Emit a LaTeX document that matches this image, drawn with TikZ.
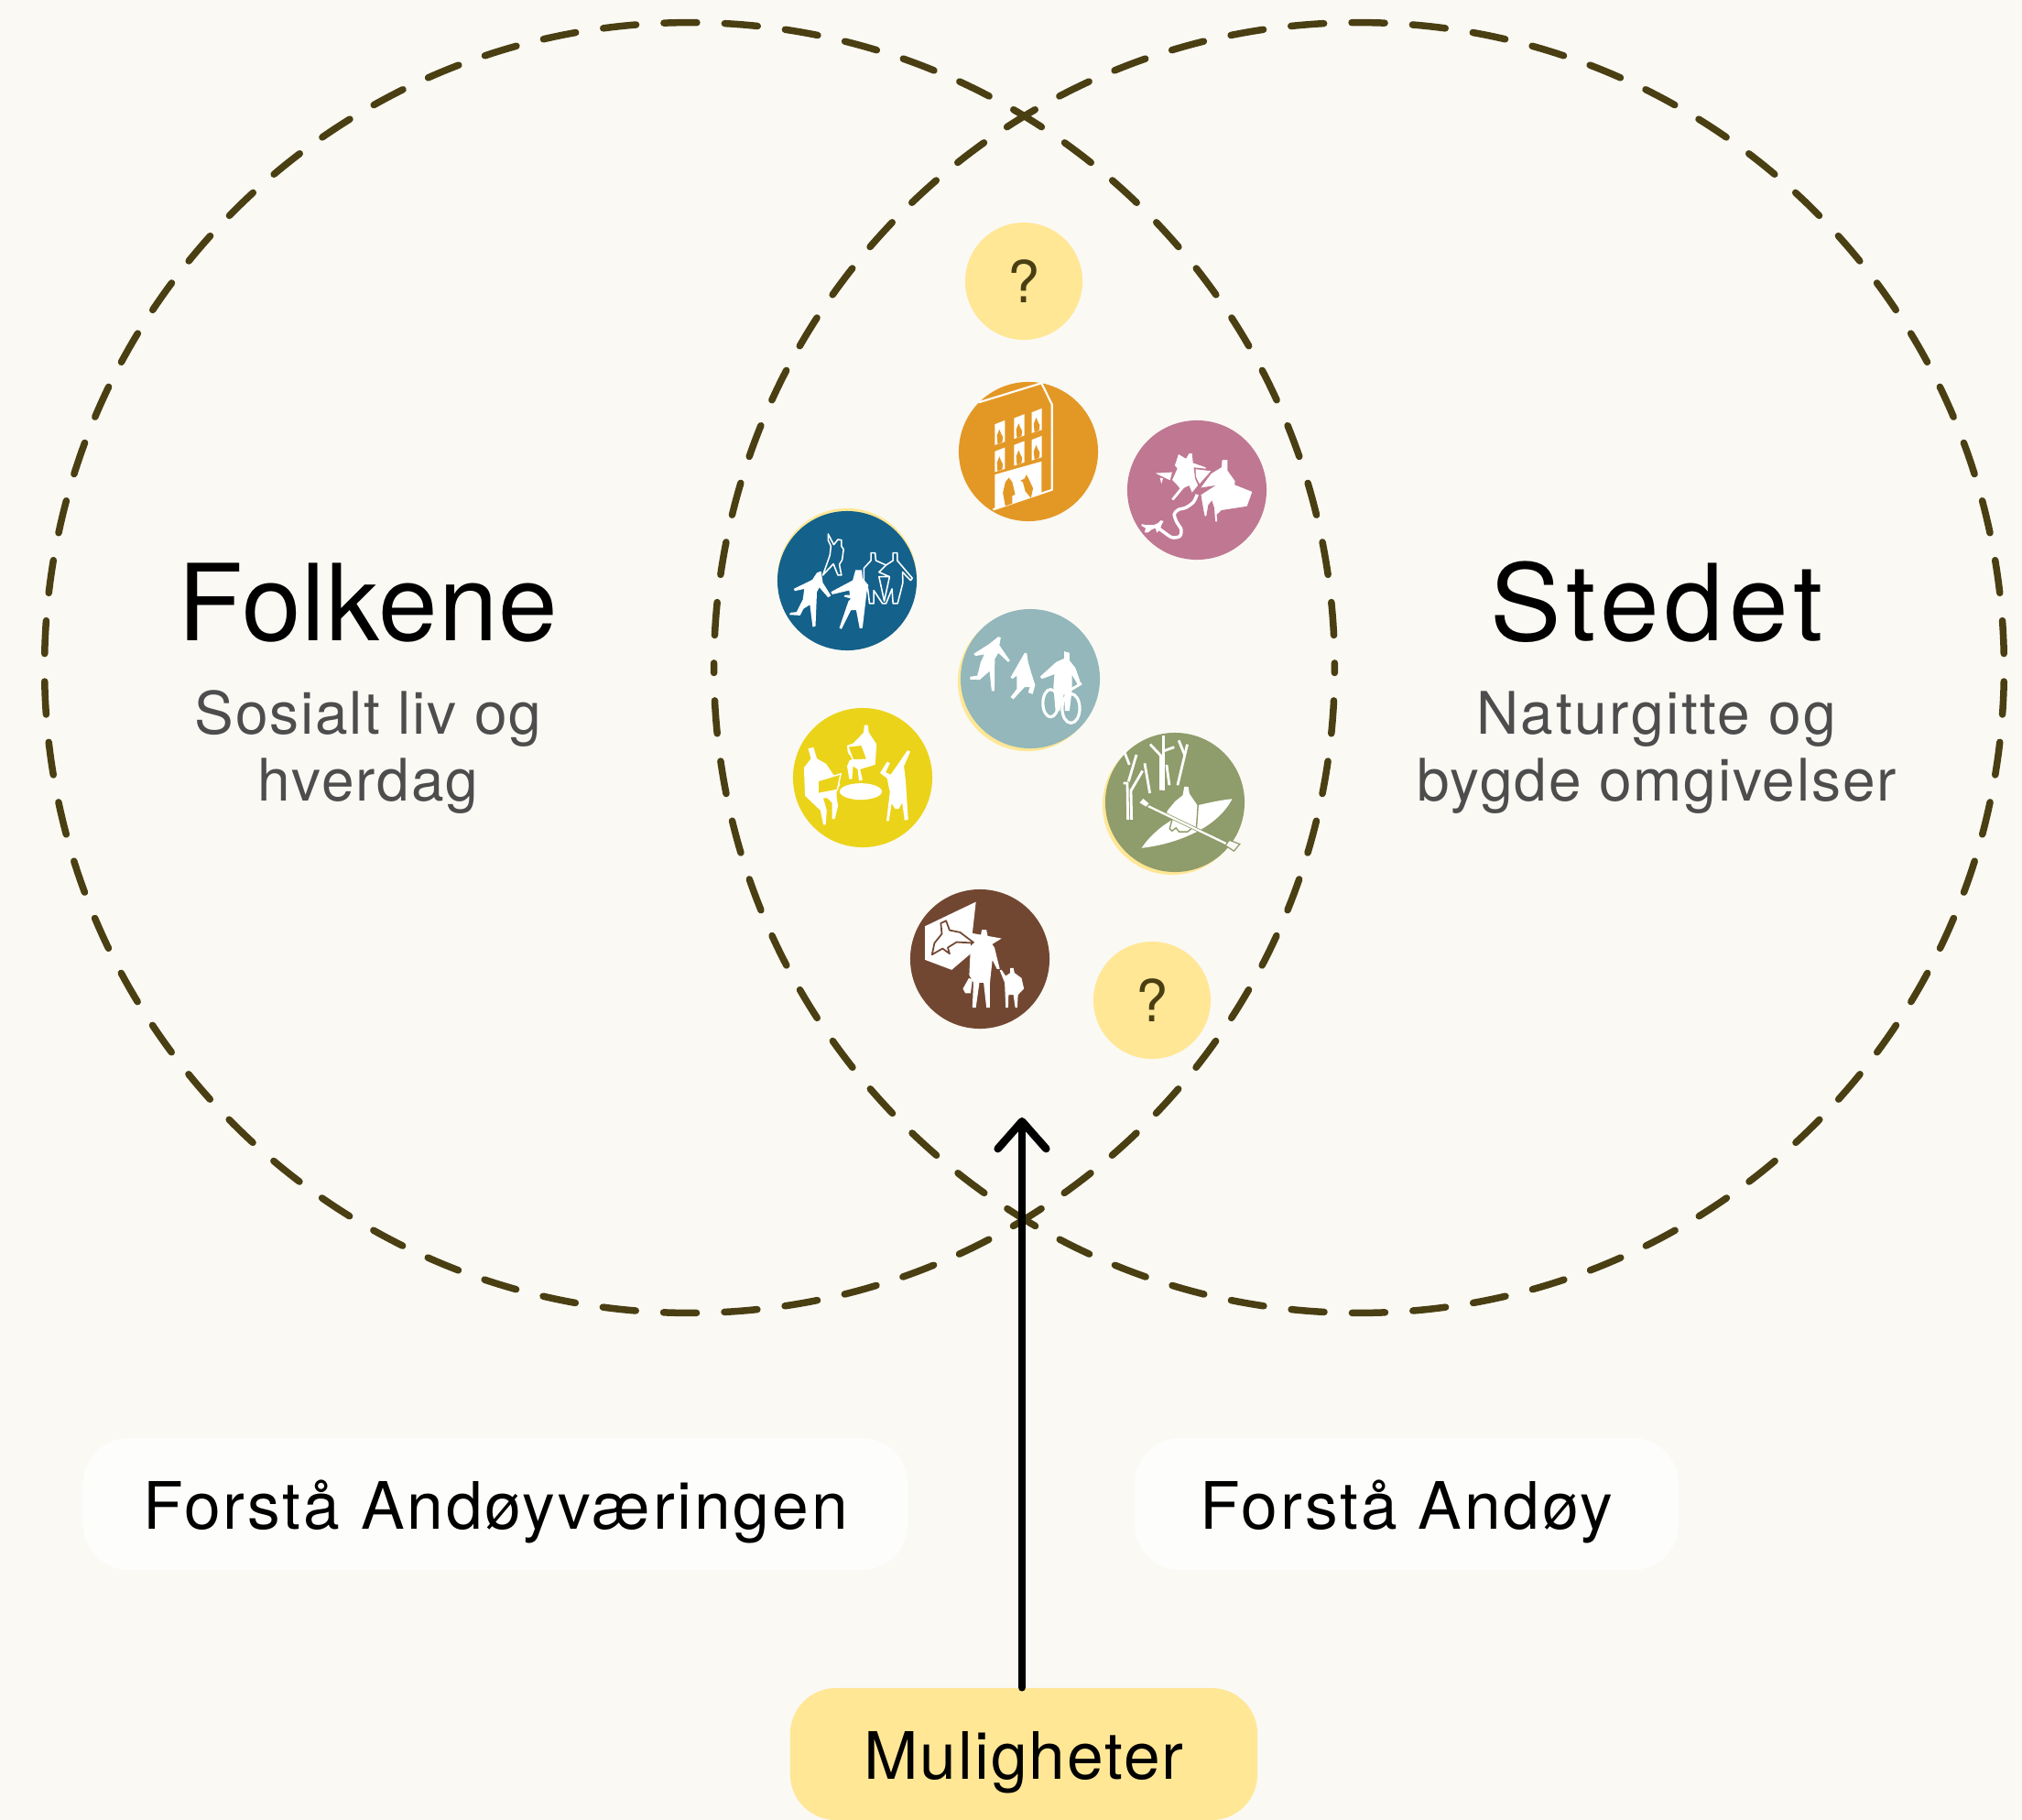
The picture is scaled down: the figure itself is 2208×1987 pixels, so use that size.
\documentclass[tikz,border=0pt]{standalone}
\usepackage{fontspec}
\usepackage{tikz}
\usetikzlibrary{arrows.meta}
\setmainfont{TeX Gyre Heros}
\newfontfamily\titlefont[LetterSpace=1]{TeX Gyre Heros}
\newfontfamily\stedfont[LetterSpace=5.3]{TeX Gyre Heros}
\newfontfamily\spacedfont[LetterSpace=2.8]{TeX Gyre Heros}
\newfontfamily\widefont[LetterSpace=4]{TeX Gyre Heros}
\definecolor{paper}{HTML}{FAF9F4}
\definecolor{ringcol}{HTML}{4A3F12}
\definecolor{softyellow}{HTML}{FFE796}
\definecolor{greytext}{HTML}{4D4D4D}
\definecolor{orangecol}{HTML}{E39826}
\definecolor{pinkcol}{HTML}{BF7792}
\definecolor{bluecol}{HTML}{14618B}
\definecolor{tealcol}{HTML}{93B7BA}
\definecolor{yellowcol}{HTML}{EBD31A}
\definecolor{sagecol}{HTML}{8F9C6B}
\definecolor{browncol}{HTML}{724732}
\tikzset{
    ring/.style={draw=ringcol,circle,minimum size=14.08cm,inner sep=0pt,outer sep=0pt,line width=.075cm,line cap=round,dash pattern=on .36cm off .3041cm,dash phase=.309cm},
    token/.style={circle,minimum size=1.52cm,inner sep=0pt,outer sep=0pt},
    asktoken/.style={circle,fill=softyellow,minimum size=1.28cm,inner sep=0pt,text=ringcol,font=\fontsize{18}{20}\selectfont},
    title/.style={anchor=base,font=\titlefont\fontsize{33}{38}\selectfont},
    subtitle/.style={anchor=base,align=center,text=greytext,font=\spacedfont\fontsize{18.2}{20.5}\selectfont},
    pill/.style={rounded corners=.5cm,inner sep=0pt,minimum height=1.44cm,text height=.55cm,text depth=0pt,font=\widefont\fontsize{20.3}{24}\selectfont},
    figure/.style={fill=white},
    figline/.style={draw=white,line width=.45pt,line join=round},
    treeline/.style={draw=white,line width=.8pt},
    topgrid/.style={shift={(820,380)},x=.003827cm,y=-.003333cm},
    lowgrid/.style={shift={(830,740)},x=.003827cm,y=-.003333cm},
    walkgrid/.style={shift={(1235,465)},x=.003333cm,y=-.003333cm},
    kayakgrid/.style={shift={(1225,800)},x=.003333cm,y=-.003333cm}
}
\begin{document}
\begin{tikzpicture}[x=.01cm,y=-.01cm]
    \useasboundingbox (0,0) rectangle (2208,1987);
    \fill[paper] (0,0) rectangle (2208,1987);

    \node[ring] (folkene) at (753,729) {};
    \node[ring,xscale=-1] (stedet) at (1484,729) {};

    \node[title] (folktitle) at (402,699) {Folkene};
    \node[title] (stedtitle) at (1809,699) {\stedfont Stedet};
    \node[subtitle] (folktext) at (402,874) {Sosialt liv og\\hverdag};
    \node[subtitle] (stedtext) at (1809,874) {{\widefont Naturgitte og}\\bygde omgivelser};

    \node[pill,fill=white,fill opacity=.7,text opacity=1,minimum width=9cm] (forfolk) at (541,1642) {Forstå Andøyværingen};
    \node[pill,fill=white,fill opacity=.7,text opacity=1,minimum width=5.94cm] (forsted) at (1536,1642) {Forstå Andøy};
    \node[pill,fill=softyellow,minimum width=5.1cm] (muligheter) at (1118,1915) {\spacedfont Muligheter};

    \coordinate (arrowtip) at (1116,1220);
    \draw[-{Straight Barb[length=8.5pt,width=15pt,round]},line width=.085cm,line cap=round] (muligheter.north -| arrowtip) -- (arrowtip);

    \node[asktoken] (asktop) at (1118,307) {?};
    \node[asktoken] (asklow) at (1258,1092) {?};

    \fill[softyellow] (925,631) circle (.76cm);
    \fill[softyellow] (1122,744) circle (.76cm);
    \fill[softyellow] (1280,879) circle (.76cm);
    \node[token,fill=orangecol] (house) at (1123,493) {};
    \node[token,fill=pinkcol] (walk) at (1307,535) {};
    \node[token,fill=bluecol] (crowd) at (925,634) {};
    \node[token,fill=tealcol] (move) at (1125,741) {};
    \node[token,fill=yellowcol] (meet) at (942,849) {};
    \node[token,fill=sagecol] (kayak) at (1283,876) {};
    \node[token,fill=browncol] (family) at (1070,1047) {};

    \begin{scope}[topgrid]
        \draw[figline,line width=.6pt] (690,530) -- (858,465) -- (858,185) -- (828,115) -- (650,178);
        \fill[figure] (695,415) -- (828,372) -- (828,478) -- (695,528) -- cycle;
        \fill[orangecol] (735,425) -- (745,440) -- (753,480) -- (745,485) -- (745,510) -- (725,518) -- (718,475) -- (725,440) -- cycle;
        \fill[orangecol] (785,415) -- (792,430) -- (804,460) -- (798,492) -- (782,470) -- (775,440) -- (768,435) -- (780,428) -- cycle;
        \foreach \wx/\wy in {695/237,750/217,800/198,695/326,750/305,800/288} {
            \fill[figure] (\wx,\wy+13) -- (\wx+29,\wy) -- (\wx+29,\wy+70) -- (\wx,\wy+81) -- cycle;
            \fill[orangecol] (\wx+8,\wy+78) -- (\wx+6,\wy+50) -- (\wx+13,\wy+30) -- (\wx+18,\wy+44) -- (\wx+23,\wy+55) -- (\wx+21,\wy+72) -- cycle;
        }

        \fill[figure] (188,737) -- (200,732) -- (205,770) -- (228,812) -- (220,818) -- (195,785) -- (188,800) -- (184,912) -- (176,915) -- (168,842) -- (150,855) -- (140,877) -- (110,875) -- (112,868) -- (130,866) -- (148,825) -- (152,790) -- (125,797) -- (122,790) -- (175,760) -- cycle;
        \fill[figure] (298,728) -- (316,728) -- (318,755) -- (335,778) -- (330,800) -- (318,918) -- (310,920) -- (300,860) -- (285,860) -- (258,922) -- (252,918) -- (278,830) -- (285,822) -- (265,815) -- (268,810) -- (282,810) -- (280,795) -- (232,808) -- (228,800) -- (290,762) -- cycle;
        \draw[figline] (220,610) -- (236,645) -- (248,628) -- (258,630) -- (258,650) -- (264,660) -- (260,695) -- (252,710) -- (258,745) -- (248,745) -- (235,708) -- (205,745) -- (225,680) -- (228,650) -- (220,630) -- cycle;
        \draw[figline] (342,672) -- (354,672) -- (356,697) -- (385,712) -- (405,697) -- (405,672) -- (417,672) -- (417,697) -- (460,755) -- (455,762) -- (432,735) -- (433,770) -- (418,838) -- (405,838) -- (402,790) -- (385,838) -- (375,838) -- (350,795) -- (350,838) -- (338,838) -- (333,790) -- (322,770) -- (322,722) -- (342,697) -- cycle;
        \draw[figline] (385,712) -- (365,735) -- (395,750) -- (365,750) -- (380,830) -- (395,750);

        \fill[figure] (705,947) -- (712,950) -- (708,975) -- (738,1025) -- (733,1030) -- (705,1000) -- (695,1020) -- (694,1125) -- (686,1125) -- (680,1060) -- (665,1075) -- (652,1088) -- (625,1087) -- (625,1078) -- (645,1075) -- (655,1030) -- (665,1005) -- (640,1010) -- (635,1003) -- (680,970) -- cycle;
        \fill[figure] (780,1000) -- (786,1000) -- (790,1030) -- (800,1070) -- (810,1105) -- (803,1135) -- (790,1130) -- (795,1112) -- (780,1112) -- (748,1152) -- (740,1145) -- (758,1118) -- (758,1075) -- (745,1085) -- (740,1080) -- (765,1030) -- cycle;
        \fill[figure] (893,995) -- (908,1000) -- (908,1025) -- (925,1050) -- (940,1100) -- (932,1105) -- (915,1072) -- (915,1120) -- (908,1190) -- (895,1190) -- (893,1130) -- (880,1190) -- (868,1190) -- (862,1110) -- (865,1070) -- (830,1085) -- (824,1078) -- (870,1030) -- (893,1018) -- cycle;
        \draw[white,line width=.9pt] (854,1165) ellipse [x radius=.084cm,y radius=.15cm];
        \draw[white,line width=.9pt] (912,1182) ellipse [x radius=.096cm,y radius=.16cm];
        \draw[white,line width=.8pt] (905,1125) -- (942,1100);
    \end{scope}

    \begin{scope}[walkgrid]
        \fill[figure] (80,155) -- (135,152) -- (128,178) -- cycle;
        \fill[figure] (95,170) -- (105,172) -- (100,190) -- cycle;
        \fill[figure] (212,142) -- (262,148) -- (225,190) -- (212,165) -- cycle;
        \draw[figure,draw=pinkcol,line width=.3pt] (155,90) -- (180,105) -- (190,88) -- (202,88) -- (205,120) -- (248,135) -- (246,142) -- (208,138) -- (212,172) -- (222,195) -- (200,222) -- (190,198) -- (175,205) -- (140,247) -- (130,240) -- (158,205) -- (150,195) -- (133,178) -- (150,140) -- (142,130) -- cycle;
        \draw[figure,draw=pinkcol,line width=.3pt] (298,110) -- (318,110) -- (318,145) -- (343,180) -- (342,192) -- (400,215) -- (382,265) -- (298,278) -- (283,292) -- (285,315) -- (275,315) -- (272,270) -- (265,248) -- (255,260) -- (248,300) -- (240,295) -- (232,250) -- (228,225) -- (270,198) -- (225,205) -- (262,155) -- (295,135) -- cycle;
        \draw[white,line width=1pt] plot[smooth] coordinates {(217,225) (205,250) (180,268) (155,275) (142,290) (150,315) (165,340) (160,362) (135,366) (110,350) (90,335)};
        \fill[figure] (35,322) -- (50,325) -- (75,325) -- (90,318) -- (97,310) -- (107,312) -- (100,325) -- (95,340) -- (85,350) -- (80,335) -- (68,340) -- (55,350) -- (45,350) -- (48,335) -- (35,328) -- cycle;
    \end{scope}

    \begin{scope}[kayakgrid]
        \draw[treeline] (20,285) -- (18,165) -- (5,165);
        \draw[treeline] (32,285) -- (30,190) -- (68,125);
        \draw[treeline] (22,160) -- (48,72);
        \draw[treeline] (25,105) -- (8,62);
        \draw[treeline] (75,100) -- (92,198);
        \draw[treeline] (128,188) -- (128,75) -- (93,38);
        \draw[treeline] (137,188) -- (137,10);
        \draw[treeline] (137,60) -- (172,47);
        \draw[treeline] (147,105) -- (156,172);
        \draw[treeline] (183,172) -- (215,38);
        \draw[treeline] (207,75) -- (187,25);
        \fill[figure] (65,378) .. controls (90,340) and (130,305) .. (170,283) -- (250,238) .. controls (290,228) and (330,220) .. (362,217) .. controls (340,260) and (300,295) .. (255,320) .. controls (190,355) and (120,372) .. (65,378) -- cycle;
        \fill[figure] (205,177) -- (218,177) -- (222,200) -- (248,238) -- (247,285) -- (240,300) -- (228,305) -- (145,272) -- (150,255) -- (175,225) -- (200,205) -- cycle;
        \draw[sagecol,line width=.4pt] (250,238) -- (245,310);
        \draw[sagecol,line width=.4pt] (165,285) -- (157,315) -- (165,322) -- (178,312) -- (188,325) -- (215,325) -- (228,315);
        \draw[sagecol,line width=1.1pt] (75,235) -- (345,365);
        \draw[white,line width=.65pt] (75,235) -- (345,365);
        \draw[fill=white,draw=sagecol,line width=.35pt] (55,230) -- (70,213) -- (92,232) -- (80,245) -- cycle;
        \draw[fill=paper,draw=sagecol,line width=.35pt] (340,370) -- (352,352) -- (387,365) -- (368,388) -- cycle;
    \end{scope}

    \begin{scope}[lowgrid]
        \fill[figure] (137,232) -- (152,228) -- (162,265) -- (188,282) -- (225,345) -- (228,350) -- (218,370) -- (218,392) -- (222,420) -- (213,463) -- (205,463) -- (205,410) -- (192,395) -- (180,395) -- (190,435) -- (187,482) -- (180,482) -- (172,435) -- (128,387) -- (125,295) -- (145,265) -- cycle;
        \draw[fill=yellowcol,draw=white,line width=.4pt] (165,338) -- (230,315) -- (220,368) -- (165,380) -- cycle;
        \fill[figure] (287,373) ellipse [x radius=.23cm,y radius=.09cm];
        \fill[figure] (297,155) -- (307,155) -- (310,180) -- (332,218) -- (328,285) -- (285,300) -- (292,335) -- (282,338) -- (278,300) -- (265,290) -- (262,332) -- (254,332) -- (248,290) -- (255,270) -- (265,268) -- (250,245) -- (248,222) -- (265,215) -- (295,180) -- cycle;
        \draw[fill=yellowcol,draw=white,line width=.4pt] (250,225) -- (290,220) -- (305,268) -- (265,270) -- cycle;
        \fill[figure] (420,238) -- (428,242) -- (410,290) -- (415,340) -- (422,465) -- (412,468) -- (405,410) -- (395,430) -- (385,430) -- (375,412) -- (367,470) -- (360,470) -- (370,375) -- (362,330) -- (342,312) -- (362,275) -- (370,280) -- (358,310) -- (372,318) -- (395,280) -- cycle;

        \fill[figure] (470,815) -- (615,735) -- (605,838) -- (688,855) -- (660,875) -- (600,870) -- (600,905) -- (546,958) -- (470,925) -- cycle;
        \draw[browncol,line width=.5pt,line join=round] (515,805) -- (530,797) -- (540,828) -- (570,835) -- (610,870) -- (560,867) -- (535,885) -- (540,905) -- (520,888) -- (490,908) -- (497,870) -- (518,840) -- cycle;
        \fill[figure] (632,827) -- (645,827) -- (650,855) -- (668,885) -- (683,955) -- (675,955) -- (662,925) -- (655,1000) -- (655,1082) -- (645,1082) -- (637,1000) -- (625,1000) -- (615,1082) -- (605,1082) -- (608,1000) -- (596,975) -- (600,880) -- (628,850) -- cycle;
        \fill[figure] (595,985) -- (605,990) -- (600,1035) -- (585,1035) -- (578,1020) -- cycle;
        \fill[figure] (713,952) -- (722,952) -- (725,968) -- (745,985) -- (752,1020) -- (735,1040) -- (733,1082) -- (727,1082) -- (722,1040) -- (708,1040) -- (707,1082) -- (700,1082) -- (697,1000) -- (683,960) -- (688,958) -- (700,978) -- (713,968) -- cycle;
    \end{scope}
\end{tikzpicture}
\end{document}
